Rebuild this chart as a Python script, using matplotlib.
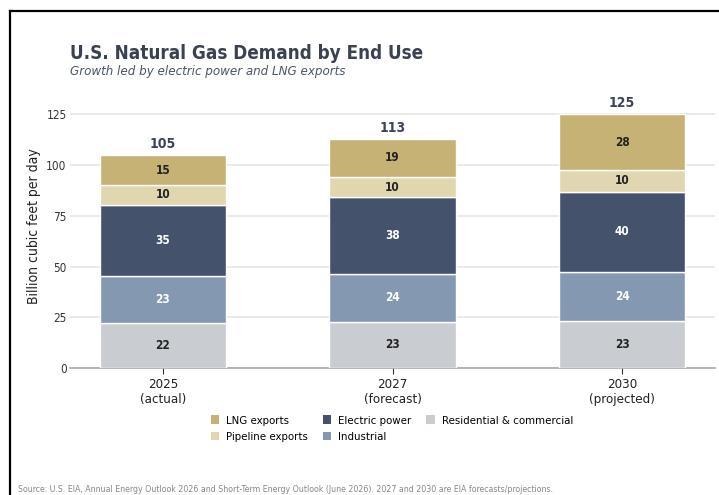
import matplotlib
matplotlib.use("Agg")
import matplotlib.pyplot as plt
from matplotlib.lines import Line2D
from matplotlib.patches import Patch

plt.rcParams["font.family"] = ["DejaVu Sans"]
plt.rcParams["font.stretch"] = "condensed"

# data (billion cubic feet per day)
years = ["2025\n(actual)", "2027\n(forecast)", "2030\n(projected)"]
residential = [22.4, 22.9, 23.1]
industrial = [23.1, 23.6, 24.0]
electric = [34.9, 37.6, 39.9]
pipeline = [9.8, 10.2, 10.4]
lng = [14.8, 18.7, 27.6]

series = [
    ("Residential & commercial", residential, "#c9ccd1", "#222222"),
    ("Industrial", industrial, "#8498b1", "white"),
    ("Electric power", electric, "#44536b", "white"),
    ("Pipeline exports", pipeline, "#e0d7b0", "#222222"),
    ("LNG exports", lng, "#c5b274", "#222222"),
]

fig = plt.figure(figsize=(7.19, 4.95), dpi=100)
ax = fig.add_axes([0.0974, 0.2566, 0.897, 0.5737])

x = list(range(len(years)))
bottom = [0.0] * len(years)
handles = {}
for name, vals, color, tcolor in series:
    ax.bar(x, vals, 0.55, bottom=bottom, color=color,
           edgecolor="white", linewidth=1, zorder=3)
    handles[name] = Patch(facecolor=color, label=name)
    for xi, v, b in zip(x, vals, bottom):
        ax.text(xi, b + v / 2, f"{round(v):d}", ha="center", va="center",
                fontsize=8.5, fontweight="bold", color=tcolor, zorder=4)
    bottom = [b + v for b, v in zip(bottom, vals)]

for xi, tot in zip(x, bottom):
    ax.text(xi, tot + 2, f"{round(tot):d}", ha="center", va="bottom",
            fontsize=10, fontweight="bold", color="#3a4456")

ax.set_xlim(-0.405, 2.405)
ax.set_ylim(0, 140)
ax.set_yticks([0, 25, 50, 75, 100, 125])
ax.set_xticks(x)
ax.set_xticklabels(years, fontsize=9.5, color="#222222")
ax.tick_params(axis="y", length=0, labelsize=8.5, colors="#333333", pad=2.5)
ax.tick_params(axis="x", length=4, color="#333333")
ax.grid(axis="y", color="#e8e8e8", linewidth=1.3, zorder=0)
ax.set_axisbelow(True)
for s in ["top", "right", "left"]:
    ax.spines[s].set_visible(False)
ax.spines["bottom"].set_color("#aaaaaa")
ax.spines["bottom"].set_linewidth(1.2)
ax.set_ylabel("Billion cubic feet per day", fontsize=10, color="#222222", labelpad=4)

order = ["LNG exports", "Pipeline exports", "Electric power", "Industrial",
         "Residential & commercial"]
fig.legend(handles=[handles[n] for n in order], ncol=3, frameon=False,
           loc="center", bbox_to_anchor=(0.545, 0.134), fontsize=8.2,
           handlelength=0.75, handleheight=0.75, handletextpad=0.6,
           columnspacing=1.3, labelspacing=0.55)

fig.text(70 / 719, 1 - 59 / 495, "U.S. Natural Gas Demand by End Use",
         fontsize=13.5, fontweight="bold", color="#3a4252", va="baseline")
fig.text(70 / 719, 1 - 75 / 495, "Growth led by electric power and LNG exports",
         fontsize=9.5, style="italic", color="#4a5568", va="baseline")
fig.text(18 / 719, 1 - 492 / 495,
         "Source: U.S. EIA, Annual Energy Outlook 2026 and Short-Term Energy Outlook (June 2026). "
         "2027 and 2030 are EIA forecasts/projections.",
         fontsize=6.3, color="#888888", va="baseline")

# partial frame around the figure
fig.add_artist(Line2D([9.5 / 719, 9.5 / 719], [0, 1 - 10.5 / 495],
                      transform=fig.transFigure, color="black", linewidth=1.6))
fig.add_artist(Line2D([9.5 / 719, 1], [1 - 10.5 / 495, 1 - 10.5 / 495],
                      transform=fig.transFigure, color="black", linewidth=1.6))

fig.savefig("out.png", dpi=100)
